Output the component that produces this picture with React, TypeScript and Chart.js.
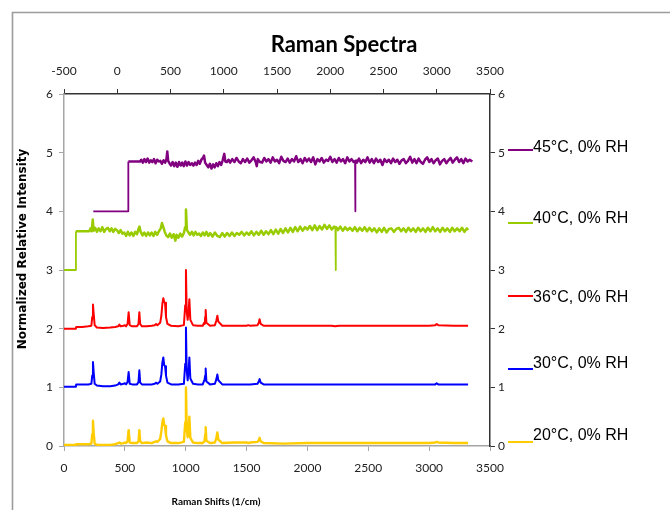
import React, { useEffect, useRef } from "react";
import { Chart, registerables } from "chart.js";

Chart.register(...registerables);

// ---------- labels ----------
const chartTitle = "Raman Spectra";
const xTitle = "Raman Shifts (1/cm)";
const yTitle = "Normalized Relative Intensity";
const seriesLabels = ["45°C, 0% RH", "40°C, 0% RH", "36°C, 0% RH", "30°C, 0% RH", "20°C, 0% RH"];
const seriesColors = ["#800080", "#99CC00", "#FF0000", "#0000FF", "#FFCC00"];

// ---------- axis ranges / ticks ----------
const bottomTicks = [0, 500, 1000, 1500, 2000, 2500, 3000, 3500];
const topTicks = [-500, 0, 500, 1000, 1500, 2000, 2500, 3000, 3500];
const yTicks = [0, 1, 2, 3, 4, 5, 6];

// ---------- 36/30/20 °C spectra (shared Raman shift grid, bottom axis) ----------
const shifts = [
  0, 60, 98, 100, 150, 200, 225, 232, 238, 244, 252, 270, 320, 380, 420, 445, 455, 465, 490, 500,
  510, 522, 531, 540, 560, 600, 612, 619, 626, 640, 680, 720, 745, 756, 767, 790, 800, 808, 816, 823,
  830, 838, 850, 880, 940, 985, 996, 1002, 1008, 1016, 1024, 1030, 1038, 1060, 1100, 1140, 1152, 1156, 1160, 1164,
  1170, 1200, 1240, 1252, 1260, 1268, 1300, 1400, 1500, 1514, 1530, 1590, 1600, 1607, 1616, 1640, 1800, 2000, 2200, 2227,
  2260, 2500, 2800, 3000, 3050, 3062, 3075, 3200, 3320,
];
const red36 = [
  2.0, 2.0, 2.0, 2.03, 2.03, 2.04, 2.05, 2.2, 2.41, 2.25, 2.06, 2.02, 2.01, 2.02, 2.03, 2.04, 2.07, 2.04, 2.05, 2.06,
  2.04, 2.08, 2.28, 2.06, 2.04, 2.04, 2.08, 2.28, 2.08, 2.04, 2.04, 2.05, 2.06, 2.08, 2.06, 2.1, 2.22, 2.42, 2.52, 2.45,
  2.44, 2.2, 2.08, 2.05, 2.04, 2.06, 2.4, 3.0, 2.3, 2.15, 2.3, 2.5, 2.15, 2.06, 2.05, 2.05, 2.1, 2.08, 2.2, 2.32,
  2.1, 2.05, 2.06, 2.14, 2.22, 2.12, 2.05, 2.05, 2.05, 2.06, 2.05, 2.06, 2.1, 2.16, 2.08, 2.05, 2.05, 2.05, 2.05, 2.04,
  2.05, 2.05, 2.05, 2.05, 2.06, 2.08, 2.06, 2.05, 2.05,
];
const blue30 = [
  1.01, 1.01, 1.01, 1.05, 1.05, 1.05, 1.06, 1.2, 1.43, 1.25, 1.06, 1.03, 1.02, 1.02, 1.03, 1.05, 1.08, 1.05, 1.06, 1.07,
  1.05, 1.09, 1.26, 1.06, 1.05, 1.05, 1.09, 1.29, 1.08, 1.05, 1.05, 1.05, 1.06, 1.08, 1.06, 1.1, 1.22, 1.42, 1.51, 1.38,
  1.36, 1.2, 1.08, 1.05, 1.05, 1.06, 1.4, 2.02, 1.3, 1.12, 1.3, 1.51, 1.15, 1.06, 1.05, 1.05, 1.12, 1.15, 1.2, 1.32,
  1.1, 1.05, 1.06, 1.14, 1.22, 1.12, 1.05, 1.05, 1.05, 1.05, 1.05, 1.06, 1.1, 1.14, 1.08, 1.05, 1.05, 1.05, 1.05, 1.05,
  1.05, 1.05, 1.05, 1.05, 1.05, 1.07, 1.05, 1.05, 1.05,
];
const yellow20 = [
  0.02, 0.02, 0.02, 0.03, 0.03, 0.03, 0.04, 0.2, 0.43, 0.22, 0.04, 0.02, 0.02, 0.02, 0.03, 0.05, 0.06, 0.04, 0.05, 0.06,
  0.05, 0.08, 0.27, 0.06, 0.05, 0.05, 0.08, 0.27, 0.08, 0.05, 0.06, 0.05, 0.07, 0.08, 0.07, 0.12, 0.25, 0.4, 0.47, 0.36,
  0.34, 0.18, 0.08, 0.05, 0.05, 0.07, 0.4, 1.0, 0.3, 0.15, 0.3, 0.5, 0.14, 0.06, 0.05, 0.05, 0.08, 0.12, 0.2, 0.32,
  0.09, 0.05, 0.06, 0.14, 0.23, 0.11, 0.05, 0.06, 0.06, 0.05, 0.06, 0.07, 0.1, 0.14, 0.08, 0.05, 0.04, 0.05, 0.05, 0.05,
  0.05, 0.05, 0.05, 0.05, 0.06, 0.07, 0.06, 0.05, 0.05,
];

// ---------- 40 °C spectrum (bottom axis) ----------
const green40Shifts = [
  0, 98, 98, 208, 218, 228, 236, 244, 256, 270, 285, 300, 315, 330, 345, 360, 375, 390, 405, 420,
  435, 450, 465, 480, 495, 510, 525, 540, 555, 570, 585, 600, 612, 620, 630, 645, 660, 675, 690, 705,
  720, 735, 750, 765, 780, 795, 805, 815, 828, 840, 855, 870, 885, 900, 915, 925, 940, 955, 970, 985,
  995, 1002, 1010, 1020, 1035, 1050, 1065, 1080, 1095, 1110, 1125, 1140, 1155, 1170, 1185, 1200, 1220, 1240, 1260, 1280,
  1300, 1320, 1340, 1360, 1380, 1400, 1420, 1440, 1460, 1480, 1500, 1520, 1540, 1560, 1580, 1600, 1620, 1640, 1660, 1680,
  1700, 1720, 1740, 1760, 1780, 1800, 1820, 1840, 1860, 1880, 1900, 1920, 1940, 1960, 1980, 2000, 2020, 2040, 2060, 2080,
  2100, 2120, 2140, 2160, 2180, 2200, 2220, 2230, 2232, 2234, 2250, 2270, 2290, 2310, 2330, 2350, 2370, 2390, 2410, 2430,
  2450, 2470, 2490, 2510, 2530, 2550, 2570, 2590, 2610, 2630, 2650, 2670, 2690, 2710, 2730, 2750, 2770, 2790, 2810, 2830,
  2850, 2870, 2890, 2910, 2930, 2950, 2970, 2990, 3010, 3030, 3050, 3070, 3090, 3110, 3130, 3150, 3170, 3190, 3210, 3230,
  3250, 3270, 3290, 3310, 3320,
];
const green40 = [
  3.0, 3.0, 3.66, 3.66, 3.71, 3.66, 3.86, 3.67, 3.72, 3.65, 3.71, 3.66, 3.73, 3.65, 3.7, 3.72, 3.66, 3.71, 3.65, 3.7,
  3.68, 3.63, 3.68, 3.62, 3.64, 3.58, 3.65, 3.59, 3.64, 3.58, 3.65, 3.61, 3.7, 3.74, 3.65, 3.59, 3.64, 3.58, 3.64, 3.59,
  3.64, 3.58, 3.65, 3.6, 3.66, 3.71, 3.8, 3.74, 3.65, 3.59, 3.56, 3.62, 3.55, 3.61, 3.5, 3.6, 3.55, 3.62, 3.57, 3.63,
  3.73, 4.03, 3.68, 3.65, 3.6, 3.65, 3.59, 3.65, 3.6, 3.62, 3.58, 3.64, 3.59, 3.65, 3.58, 3.63, 3.57, 3.64, 3.58, 3.56,
  3.63, 3.57, 3.63, 3.58, 3.64, 3.58, 3.63, 3.6, 3.65, 3.59, 3.64, 3.6, 3.66, 3.59, 3.65, 3.6, 3.67, 3.6, 3.66, 3.61,
  3.68, 3.61, 3.69, 3.62, 3.7, 3.63, 3.71, 3.64, 3.72, 3.65, 3.73, 3.66, 3.74, 3.67, 3.73, 3.69, 3.75, 3.68, 3.76, 3.68,
  3.75, 3.69, 3.77, 3.7, 3.76, 3.69, 3.74, 3.72, 3.0, 3.74, 3.68, 3.74, 3.67, 3.73, 3.68, 3.72, 3.67, 3.73, 3.66, 3.72,
  3.67, 3.73, 3.66, 3.72, 3.66, 3.71, 3.64, 3.71, 3.65, 3.72, 3.64, 3.7, 3.71, 3.65, 3.7, 3.72, 3.66, 3.71, 3.65, 3.72,
  3.66, 3.71, 3.65, 3.72, 3.66, 3.71, 3.65, 3.72, 3.66, 3.73, 3.66, 3.71, 3.65, 3.72, 3.66, 3.71, 3.65, 3.72, 3.66, 3.71,
  3.66, 3.72, 3.65, 3.71, 3.68,
];

// ---------- 45 °C spectrum (top axis) ----------
const purple45Shifts = [
  -225, 104, 104, 214, 225, 240, 255, 270, 285, 300, 315, 330, 345, 360, 375, 390, 405, 420, 435, 450,
  462, 470, 478, 490, 505, 520, 535, 550, 565, 580, 595, 610, 625, 640, 655, 670, 685, 700, 715, 730,
  745, 760, 775, 790, 805, 815, 825, 840, 855, 870, 885, 900, 915, 930, 945, 960, 975, 990, 1005, 1015,
  1030, 1045, 1060, 1080, 1100, 1120, 1140, 1160, 1180, 1200, 1220, 1240, 1260, 1280, 1300, 1310, 1320, 1340, 1360, 1380,
  1400, 1420, 1440, 1460, 1480, 1500, 1520, 1540, 1560, 1580, 1600, 1620, 1640, 1660, 1680, 1700, 1720, 1740, 1760, 1780,
  1800, 1820, 1840, 1860, 1880, 1900, 1920, 1940, 1960, 1980, 2000, 2020, 2040, 2060, 2080, 2100, 2120, 2140, 2160, 2180,
  2200, 2220, 2233, 2235, 2237, 2250, 2270, 2290, 2310, 2330, 2350, 2370, 2390, 2410, 2430, 2450, 2470, 2490, 2510, 2530,
  2550, 2570, 2590, 2610, 2630, 2650, 2670, 2690, 2710, 2730, 2750, 2770, 2790, 2810, 2830, 2850, 2870, 2890, 2910, 2930,
  2950, 2970, 2990, 3010, 3030, 3050, 3070, 3090, 3110, 3130, 3150, 3170, 3190, 3210, 3230, 3250, 3270, 3290, 3310, 3334,
];
const purple45 = [
  4.0, 4.0, 4.85, 4.85, 4.88, 4.83, 4.89, 4.84, 4.9, 4.83, 4.87, 4.84, 4.89, 4.82, 4.88, 4.85, 4.86, 4.81, 4.87, 4.83,
  4.89, 5.02, 4.86, 4.82, 4.78, 4.84, 4.77, 4.83, 4.76, 4.84, 4.78, 4.83, 4.77, 4.85, 4.78, 4.84, 4.79, 4.82, 4.78, 4.83,
  4.79, 4.86, 4.81, 4.88, 4.91, 4.95, 4.83, 4.79, 4.75, 4.81, 4.73, 4.8, 4.75, 4.82, 4.77, 4.84, 4.79, 4.87, 4.98, 4.85,
  4.84, 4.88, 4.83, 4.89, 4.84, 4.91, 4.85, 4.82, 4.89, 4.84, 4.9, 4.83, 4.87, 4.92, 4.84, 4.77, 4.89, 4.84, 4.83, 4.91,
  4.85, 4.89, 4.83, 4.92, 4.85, 4.88, 4.82, 4.93, 4.86, 4.84, 4.9, 4.83, 4.89, 4.85, 4.94, 4.84, 4.89, 4.82, 4.91, 4.85,
  4.9, 4.84, 4.92, 4.8, 4.89, 4.85, 4.91, 4.83, 4.88, 4.86, 4.93, 4.84, 4.89, 4.83, 4.91, 4.85, 4.89, 4.82, 4.92, 4.85,
  4.89, 4.84, 4.86, 4.0, 4.88, 4.83, 4.9, 4.82, 4.88, 4.84, 4.92, 4.83, 4.89, 4.82, 4.9, 4.84, 4.88, 4.79, 4.89, 4.84,
  4.88, 4.82, 4.9, 4.84, 4.88, 4.81, 4.87, 4.89, 4.82, 4.86, 4.93, 4.83, 4.89, 4.82, 4.9, 4.84, 4.81, 4.88, 4.92, 4.84,
  4.89, 4.82, 4.87, 4.9, 4.8, 4.86, 4.89, 4.82, 4.87, 4.91, 4.83, 4.88, 4.92, 4.84, 4.89, 4.82, 4.9, 4.85, 4.88, 4.85,
];

const toPoints = (xs: number[], ys: number[]) => xs.map((x, i) => ({ x, y: ys[i] }));

const TICK_FONT = "Lato, sans-serif";
const LEGEND_ROWS = [
  { line: 150, text: 152 },
  { line: 223, text: 223 },
  { line: 296, text: 302 },
  { line: 369, text: 368 },
  { line: 442, text: 440 },
];

const decor = {
  id: "decor",
  beforeDraw(chart: any) {
    const { ctx, width, height } = chart;
    ctx.save();
    ctx.fillStyle = "#ffffff";
    ctx.fillRect(0, 0, width, height);
    ctx.restore();
  },
  afterDraw(chart: any) {
    const { ctx, chartArea, width, height } = chart;
    ctx.save();
    // outer chart border (left and top edges visible)
    ctx.fillStyle = "#ffffff";
    ctx.fillRect(width - 16, 14, 16, height - 14);
    ctx.strokeStyle = "#9c9c9c";
    ctx.lineWidth = 1.6;
    ctx.beginPath();
    ctx.moveTo(12.5, height + 5);
    ctx.lineTo(12.5, 12.5);
    ctx.lineTo(width + 5, 12.5);
    ctx.stroke();

    ctx.fillStyle = "#000";
    ctx.textAlign = "center";
    ctx.textBaseline = "middle";
    ctx.font = "bold 22px Lato, sans-serif";
    ctx.fillText(chartTitle, 344, 45);

    ctx.font = "bold 10px Lato, sans-serif";
    ctx.fillText(xTitle, 216, 502);

    ctx.save();
    ctx.translate(23, 249);
    ctx.rotate(-Math.PI / 2);
    ctx.font = "bold 12px 'DejaVu Sans', sans-serif";
    ctx.fillText(yTitle, 0, 0);
    ctx.restore();

    // legend
    const lx = chartArea.right + 18;
    chart.data.datasets.forEach((ds: any, i: number) => {
      const row = LEGEND_ROWS[i];
      ctx.strokeStyle = ds.borderColor;
      ctx.lineWidth = 2;
      ctx.beginPath();
      ctx.moveTo(lx, row.line);
      ctx.lineTo(lx + 25, row.line);
      ctx.stroke();
      ctx.fillStyle = "#000";
      ctx.textAlign = "left";
      ctx.textBaseline = "alphabetic";
      ctx.font = "16px 'Liberation Sans', Arial, sans-serif";
      ctx.fillText(ds.label, lx + 25, row.text);
    });
    ctx.restore();
  },
};

const plain = (v: any) => String(v);

export default function App() {
  const ref = useRef<HTMLCanvasElement | null>(null);

  useEffect(() => {
    document.documentElement.style.overflow = "hidden";
    document.body.style.overflow = "hidden";
    if (!ref.current) return;
    const mk = (i: number, pts: any[], xAxisID: string, yAxisID: string, w: number, thinBelow?: number) => ({
      label: seriesLabels[i],
      data: pts,
      borderColor: seriesColors[i],
      backgroundColor: seriesColors[i],
      borderWidth: w,
      pointRadius: 0,
      tension: 0,
      fill: false,
      borderJoinStyle: "round" as const,
      xAxisID,
      yAxisID,
      segment:
        thinBelow === undefined
          ? undefined
          : { borderWidth: (c: any) => (Math.min(c.p0.parsed.y, c.p1.parsed.y) < thinBelow ? 1.8 : w) },
    });
    const chart = new Chart(ref.current, {
      type: "line",
      data: {
        datasets: [
          mk(0, toPoints(purple45Shifts, purple45), "x2", "y2", 2.5, 4.5),
          mk(1, toPoints(green40Shifts, green40), "x", "y", 2.5, 3.4),
          mk(2, toPoints(shifts, red36), "x", "y", 2),
          mk(3, toPoints(shifts, blue30), "x", "y", 2),
          mk(4, toPoints(shifts, yellow20), "x", "y", 2.4),
        ],
      },
      plugins: [decor],
      options: {
        responsive: false,
        animation: false,
        devicePixelRatio: 1,
        layout: { padding: 0 },
        plugins: { legend: { display: false }, title: { display: false }, tooltip: { enabled: false } },
        scales: {
          x: {
            type: "linear",
            position: "bottom",
            min: bottomTicks[0],
            max: bottomTicks[bottomTicks.length - 1],
            afterBuildTicks: (s: any) => { s.ticks = bottomTicks.map((v) => ({ value: v })); },
            afterFit: (s: any) => { s.height = 64; },
            border: { display: true, color: "#a6a6a6", width: 1.5 },
            grid: { drawOnChartArea: false, drawTicks: true, tickLength: 5, color: "#a6a6a6" },
            ticks: { color: "#222", font: { family: TICK_FONT, size: 12 }, padding: 10, maxRotation: 0, callback: plain },
          },
          x2: {
            type: "linear",
            position: "top",
            min: topTicks[0],
            max: topTicks[topTicks.length - 1],
            afterBuildTicks: (s: any) => { s.ticks = topTicks.map((v) => ({ value: v })); },
            afterFit: (s: any) => { s.height = 94; },
            border: { display: true, color: "#333", width: 1.5 },
            grid: { drawOnChartArea: false, drawTicks: true, tickLength: 5, color: "#333" },
            ticks: { color: "#222", font: { family: TICK_FONT, size: 12 }, padding: 11, maxRotation: 0, callback: plain },
          },
          y: {
            type: "linear",
            position: "left",
            min: yTicks[0],
            max: yTicks[yTicks.length - 1],
            afterBuildTicks: (s: any) => { s.ticks = yTicks.map((v) => ({ value: v })); },
            afterFit: (s: any) => { s.width = 64; },
            border: { display: true, color: "#a6a6a6", width: 1.5 },
            grid: { drawOnChartArea: false, drawTicks: true, tickLength: 5, color: "#a6a6a6" },
            ticks: { color: "#222", font: { family: TICK_FONT, size: 12 }, padding: 6, callback: plain },
          },
          y2: {
            type: "linear",
            position: "right",
            min: yTicks[0],
            max: yTicks[yTicks.length - 1],
            afterBuildTicks: (s: any) => { s.ticks = yTicks.map((v) => ({ value: v })); },
            afterFit: (s: any) => { s.width = 180; },
            border: { display: true, color: "#333", width: 1.5 },
            grid: { drawOnChartArea: false, drawTicks: true, tickLength: 5, color: "#333" },
            ticks: { color: "#222", font: { family: TICK_FONT, size: 12 }, padding: 3, callback: plain },
          },
        },
      },
    });
    return () => chart.destroy();
  }, []);

  return (
    <div style={{ position: "fixed", left: 0, top: 0, width: 670, height: 510, overflow: "hidden", background: "#fff" }}>
      <canvas ref={ref} width={670} height={510} style={{ display: "block", width: 670, height: 510 }} />
    </div>
  );
}
